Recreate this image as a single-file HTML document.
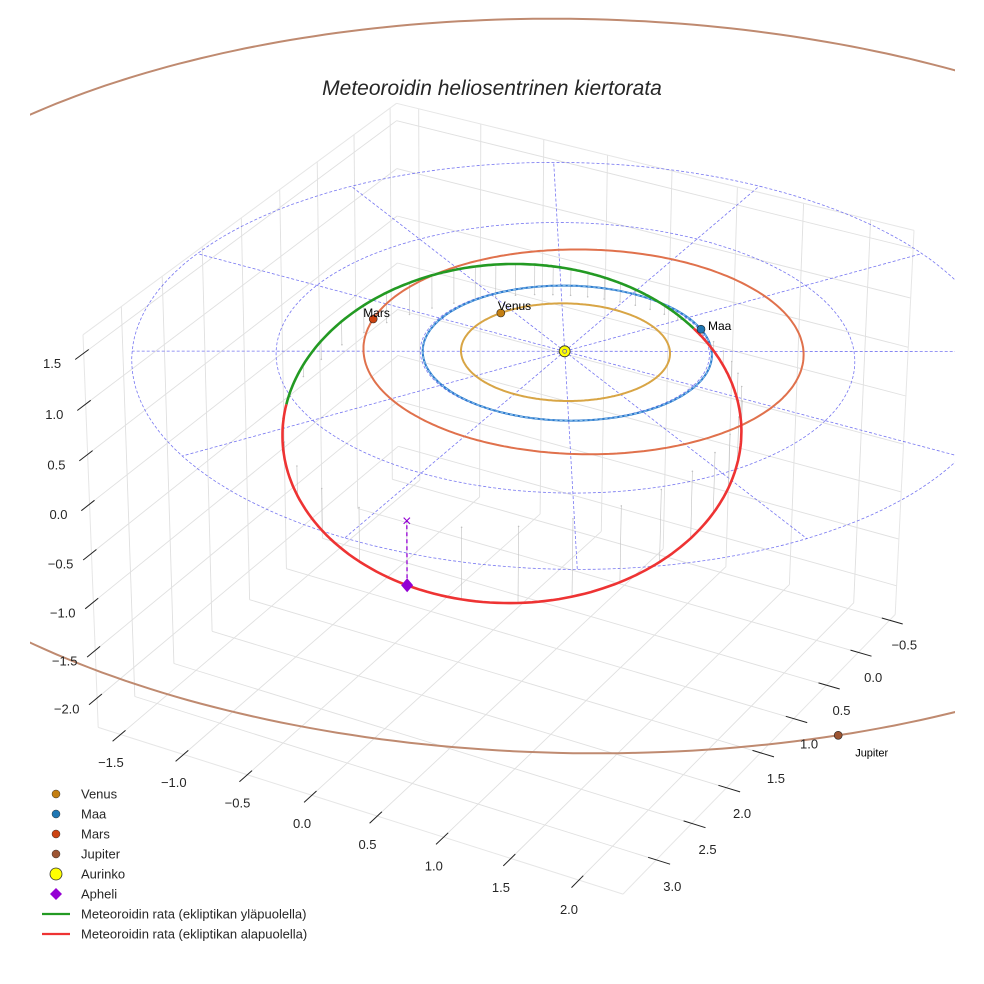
<!DOCTYPE html>
<html><head><meta charset="utf-8"><style>
html,body{margin:0;padding:0;background:#fff;}
svg{display:block;font-family:"Liberation Sans",sans-serif;}
</style></head><body>
<svg id="chart" xmlns="http://www.w3.org/2000/svg" width="984" height="984" viewBox="0 0 984 984">
<defs><clipPath id="clipArea"><rect x="30" y="0" width="925" height="984"/></clipPath></defs>
<text x="492" y="95" text-anchor="middle" font-size="21" font-style="italic" fill="#262626">Meteoroidin heliosentrinen kiertorata</text>
<g id="grid"></g>
<g id="plot" clip-path="url(#clipArea)"></g>
<g id="ticks"></g>
<g id="legend"></g>
</svg>
<script>
// ---- data ----
const xTicks = [-1.5,-1.0,-0.5,0.0,0.5,1.0,1.5,2.0];
const yTicks = [-0.5,0.0,0.5,1.0,1.5,2.0,2.5,3.0];
const zTicks = [-2.0,-1.5,-1.0,-0.5,0.0,0.5,1.0,1.5];
const xLim = [-1.68,2.32];
const yLim = [-0.59,3.46];
const zLim = [-2.31,1.68];
const planetNames = ["Venus","Maa","Mars","Jupiter"];
const planetRadii = [0.723,1.0,1.524,5.4];
const planetEcc = [0.007,0.017,0.09,0.035];
const planetPeri = [160,160,130,70];
const planetAngles = [203,-49,170,43];
const polarRadii = [1,2,3];
const polarAngles = [0,30,60,90,120,150,180,210,240,270,300,330];
// meteoroid orbital elements: semi-latus rectum, eccentricity, inclination, node, argument of perihelion
const meteorP = 1.32;
const meteorE = 0.51;
const meteorInc = 20;
const meteorNode = 128;
const meteorArg = 135;

// ---- projection (fit from box corners) ----
const NS="http://www.w3.org/2000/svg";
function nrm(x,y,z){return [(x-xLim[0])/(xLim[1]-xLim[0]),(y-yLim[0])/(yLim[1]-yLim[0]),(z-zLim[0])/(zLim[1]-zLim[0])];}
const refPts=[[[0,1,0],[100,726]],[[0,1,1],[81,335]],[[1,1,0],[623,895]],[[1,0,0],[897,613]],[[1,0,1],[912,230]],[[0,0,1],[400,102]],[[0,0,0],[395,475]],[nrm(0,0,0),[565,354]]];
const rows=[],rhs=[];
refPts.forEach(function(p){const X=p[0][0],Y=p[0][1],Z=p[0][2],u=p[1][0]/1000,v=p[1][1]/1000;
rows.push([X,Y,Z,1,0,0,0,0,-u*X,-u*Y,-u*Z]);rhs.push(u);
rows.push([0,0,0,0,X,Y,Z,1,-v*X,-v*Y,-v*Z]);rhs.push(v);});
const N=11,M=[];
for(let i=0;i<N;i++){M.push([]);for(let j=0;j<=N;j++){let s=0;for(let k=0;k<rows.length;k++)s+=rows[k][i]*(j<N?rows[k][j]:rhs[k]);M[i].push(s);}}
for(let c=0;c<N;c++){let piv=c;for(let r=c+1;r<N;r++)if(Math.abs(M[r][c])>Math.abs(M[piv][c]))piv=r;
const t=M[c];M[c]=M[piv];M[piv]=t;
for(let r=0;r<N;r++){if(r===c)continue;const f=M[r][c]/M[c][c];for(let j=c;j<=N;j++)M[r][j]-=f*M[c][j];}}
const P=[];for(let i=0;i<N;i++)P.push(M[i][N]/M[i][i]);
function proj(x,y,z){const n=nrm(x,y,z);const d=P[8]*n[0]+P[9]*n[1]+P[10]*n[2]+1;
return [1000*(P[0]*n[0]+P[1]*n[1]+P[2]*n[2]+P[3])/d,1000*(P[4]*n[0]+P[5]*n[1]+P[6]*n[2]+P[7])/d];}

function mk(tag,attrs,parent){const e=document.createElementNS(NS,tag);for(const k in attrs)e.setAttribute(k,attrs[k]);parent.appendChild(e);return e;}
function line3(a,b,attrs,parent){const p=proj(a[0],a[1],a[2]),q=proj(b[0],b[1],b[2]);const el=mk("line",Object.assign({x1:p[0].toFixed(1),y1:p[1].toFixed(1),x2:q[0].toFixed(1),y2:q[1].toFixed(1)},attrs),parent);return el;}
function poly3(pts,attrs,parent){const s=pts.map(function(p){const q=proj(p[0],p[1],p[2]);return q[0].toFixed(1)+","+q[1].toFixed(1);}).join(" ");return mk("polyline",Object.assign({points:s,fill:"none"},attrs),parent);}

const grid=document.getElementById("grid"),plot=document.getElementById("plot"),ticks=document.getElementById("ticks"),legend=document.getElementById("legend");
const gs={stroke:"#e0e0e0","stroke-width":"0.9"};
const [x0,x1]=xLim,[y0,y1]=yLim,[z0,z1]=zLim;
xTicks.forEach(function(x){const el=line3([x,y0,z0],[x,y1,z0],gs,grid);
 const e2=line3([x,y0,z0],[x,y0,z1],gs,grid);});
yTicks.forEach(function(y){const el=line3([x0,y,z0],[x1,y,z0],gs,grid);
 const e2=line3([x0,y,z0],[x0,y,z1],gs,grid);});
zTicks.forEach(function(z){const el=line3([x0,y0,z],[x0,y1,z],gs,grid);
 const e2=line3([x0,y0,z],[x1,y0,z],gs,grid);});
const es={stroke:"#e6e6e6","stroke-width":"1"};
[[[x0,y1,z0],[x0,y1,z1]],[[x1,y0,z0],[x1,y0,z1]],[[x0,y0,z1],[x0,y1,z1]],[[x0,y0,z1],[x1,y0,z1]],[[x0,y1,z0],[x1,y1,z0]],[[x1,y0,z0],[x1,y1,z0]]].forEach(function(s){const el=line3(s[0],s[1],es,grid);});

const ts={stroke:"#222","stroke-width":"1"};
function lbl(x,y,z,txt,name){const p=proj(x,y,z);const t=mk("text",{x:p[0].toFixed(1),y:(p[1]+4.5).toFixed(1),"text-anchor":"middle","font-size":"13",fill:"#262626"},ticks);t.textContent=txt;}
const fmt=function(v){return (v<0?"\u2212":"")+Math.abs(v).toFixed(1);};
xTicks.forEach(function(x){const el=line3([x,y1-0.06,z0],[x,y1+0.1,z0],ts,ticks);lbl(x,y1+0.13,z0-0.2,fmt(x),'x-tick-label');});
yTicks.forEach(function(y){const el=line3([x1-0.06,y,z0],[x1+0.1,y,z0],ts,ticks);lbl(x1+0.12,y,z0-0.22,fmt(y),'y-tick-label');});
zTicks.forEach(function(z){const el=line3([x0,y1-0.06,z],[x0,y1+0.1,z],ts,ticks);lbl(x0-0.1,y1+0.22,z,fmt(z),'z-tick-label');});

const ds={stroke:"#5555ee","stroke-width":"0.8","stroke-dasharray":"3,2",opacity:"0.8"};
polarRadii.forEach(function(r){const pts=[];for(let k=0;k<=180;k++){const a=k*2*Math.PI/180;pts.push([r*Math.cos(a),r*Math.sin(a),0]);}
 const el=poly3(pts,ds,plot);});
polarAngles.forEach(function(a){const r=polarRadii[polarRadii.length-1],t=a*Math.PI/180;const el=line3([0,0,0],[r*Math.cos(t),r*Math.sin(t),0],ds,plot);});

const inc=meteorInc*Math.PI/180,Om=meteorNode*Math.PI/180,w=meteorArg*Math.PI/180;
function orbitPt(nu){const r=meteorP/(1+meteorE*Math.cos(nu)),u=w+nu;
return [r*(Math.cos(Om)*Math.cos(u)-Math.sin(Om)*Math.sin(u)*Math.cos(inc)),r*(Math.sin(Om)*Math.cos(u)+Math.cos(Om)*Math.sin(u)*Math.cos(inc)),r*Math.sin(u)*Math.sin(inc)];}
const orb=[];for(let k=0;k<=360;k++)orb.push(orbitPt(-Math.PI+k*Math.PI/180));
for(let k=0;k<360;k+=8){const p=orb[k];const el=line3(p,[p[0],p[1],0],{stroke:"#c0c0c0","stroke-width":"0.6"},plot);
 const q=proj(p[0],p[1],0);const c=mk("circle",{cx:q[0].toFixed(1),cy:q[1].toFixed(1),r:"0.8",fill:"#c0c0c0"},plot);}

function planetPos(i,deg){const a=planetRadii[i],e=planetEcc[i],pe=planetPeri[i]*Math.PI/180,t=deg*Math.PI/180;
 const r=a*(1-e*e)/(1+e*Math.cos(t-pe));return [r*Math.cos(t),r*Math.sin(t),0];}
const orbitColors=["#d8a545","#2a78cc","#e0714c","#bf8a70"];
const planetColors=["#c47f12","#1f77b4","#cc4412","#9c5533"];
planetRadii.forEach(function(r,i){const pts=[];for(let k=0;k<=360;k++)pts.push(planetPos(i,k));
 const el=poly3(pts,{stroke:orbitColors[i],"stroke-width":"2"},plot);
 if(i===1){const e2=poly3(pts,{stroke:"#8cc4ee","stroke-width":"1","stroke-dasharray":"3,2"},plot);}});

let seg=[],segUp=orb[0][2]>=0;
function flush(up){if(seg.length>1){const el=poly3(seg,{stroke:up?"#239a23":"#ee3333","stroke-width":"2.6","stroke-linejoin":"round"},plot);}}
orb.forEach(function(p){const up=p[2]>=0;if(up!==segUp){seg.push(p);flush(segUp);seg=[p];segUp=up;}else seg.push(p);});flush(segUp);

const ap=orbitPt(Math.PI);
const apl=line3(ap,[ap[0],ap[1],0],{stroke:"#9400d3","stroke-width":"1.3","stroke-dasharray":"4,3"},plot);
const apx=proj(ap[0],ap[1],0);const xm=mk("text",{x:apx[0].toFixed(1),y:(apx[1]+5).toFixed(1),"text-anchor":"middle","font-size":"16",fill:"#9400d3"},plot);xm.textContent="×";
const app=proj(ap[0],ap[1],ap[2]);const dm=mk("path",{d:"M"+app[0]+","+(app[1]-7)+" l6,7 l-6,7 l-6,-7z",fill:"#9400d3"},plot);

const lblOff=[[-3,-3,12],[7,1,12],[-10,-2,12],[17,21,11]];
planetRadii.forEach(function(r,i){const q=planetPos(i,planetAngles[i]);const p=proj(q[0],q[1],q[2]);
 const c=mk("circle",{cx:p[0].toFixed(1),cy:p[1].toFixed(1),r:"4",fill:planetColors[i],stroke:"#222","stroke-width":"0.6"},plot);
 const t=mk("text",{x:(p[0]+lblOff[i][0]).toFixed(1),y:(p[1]+lblOff[i][1]).toFixed(1),"font-size":lblOff[i][2],fill:"#000"},plot);t.textContent=planetNames[i];});
const sp=proj(0,0,0);
const sun=mk("circle",{cx:sp[0],cy:sp[1],r:"5.5",fill:"#ffff00",stroke:"#333","stroke-width":"0.8"},plot);
const sunIn=mk("circle",{cx:sp[0],cy:sp[1],r:"2",fill:"none",stroke:"#6666aa","stroke-width":"0.8"},plot);

const legItems=[["dot","#c47f12","Venus"],["dot","#1f77b4","Maa"],["dot","#cc4412","Mars"],["dot","#9c5533","Jupiter"],["sun","#ffff00","Aurinko"],["diamond","#9400d3","Apheli"],["line","#239a23","Meteoroidin rata (ekliptikan yläpuolella)"],["line","#ee3333","Meteoroidin rata (ekliptikan alapuolella)"]];
legItems.forEach(function(it,i){const y=794+i*20,g=mk("g",{},legend);
 if(it[0]==="dot")mk("circle",{cx:56,cy:y,r:4,fill:it[1],stroke:"#333","stroke-width":"0.5"},g);
 else if(it[0]==="sun")mk("circle",{cx:56,cy:y,r:6,fill:it[1],stroke:"#333","stroke-width":"0.8"},g);
 else if(it[0]==="diamond")mk("path",{d:"M56,"+(y-6)+" l6,6 l-6,6 l-6,-6z",fill:it[1]},g);
 else mk("line",{x1:42,y1:y,x2:70,y2:y,stroke:it[1],"stroke-width":"2.2"},g);
 const t=mk("text",{x:81,y:y+4.5,"font-size":"13",fill:"#262626"},g);t.textContent=it[2];});
</script>
</body></html>
